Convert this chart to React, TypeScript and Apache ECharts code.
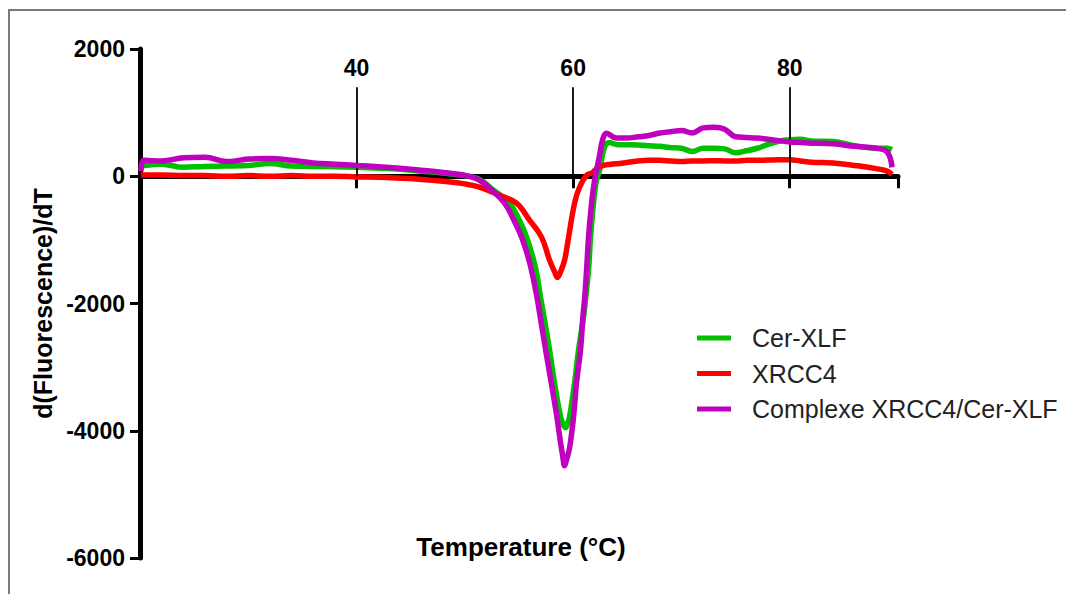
import React, { useEffect, useRef } from "react";
import * as echarts from "echarts";

// Cer-XLF (green)
const cerXLFTemp = [20.1, 20.4, 22, 24, 26, 28, 30, 32, 34, 36, 38, 40, 42, 44, 46, 48, 50, 51.36, 52.5, 54.13, 55.0, 55.7, 56.5, 56.99, 57.4, 57.82, 58.28, 58.84, 59.11, 59.3, 59.5, 59.67, 60.13, 60.5, 60.96, 61.14, 61.42, 61.61, 61.88, 62.16, 62.44, 62.9, 63.36, 64, 65, 66, 67, 68, 69, 70, 71, 72, 73, 74, 75, 76, 77, 78, 79, 80, 81, 82, 84, 86, 88, 89, 89.45];
const cerXLFValue = [150, 170, 190, 140, 155, 160, 170, 200, 160, 155, 150, 140, 125, 110, 80, 50, 10, -50, -200, -424, -680, -957, -1420, -1900, -2300, -2730, -3248, -3781, -3910, -3950, -3880, -3781, -3248, -2730, -2212, -1946, -1475, -957, -424, -63, 94, 460, 530, 500, 495, 490, 480, 470, 450, 440, 390, 440, 440, 430, 370, 400, 440, 500, 550, 575, 580, 555, 545, 480, 440, 440, 420];

// XRCC4 (red)
const xrcc4Temp = [20.1, 22, 24, 26, 28, 30, 32, 34, 36, 38, 40, 42, 44, 46, 48, 50, 51.36, 53.2, 54.77, 55.97, 57.08, 57.82, 58.28, 58.56, 58.84, 59.21, 59.58, 60.13, 60.59, 61.24, 61.79, 62.44, 63.5, 64.3, 66, 67, 68, 69, 70, 71, 72, 73, 74, 75, 76, 77, 78, 79, 80, 81, 82, 84, 86, 88, 89, 89.45];
const xrcc4Value = [20, 20, 10, 10, 0, 10, 0, 10, 0, 0, -10, -15, -30, -50, -80, -120, -170, -300, -424, -690, -957, -1318, -1500, -1590, -1500, -1318, -957, -424, -173, 15, 60, 150, 190, 200, 240, 250, 250, 240, 230, 240, 240, 245, 240, 240, 250, 250, 255, 260, 260, 240, 220, 210, 170, 120, 80, 30];

// Complexe XRCC4/Cer-XLF (purple)
const complexeTemp = [20.1, 20.4, 22, 24, 26, 28, 30, 32, 34, 36, 38, 40, 42, 44, 46, 48, 50, 51.36, 52.5, 53.67, 54.5, 55.24, 55.97, 56.62, 57.08, 57.54, 58.01, 58.47, 58.84, 59.02, 59.21, 59.39, 59.67, 60.04, 60.31, 60.68, 60.9, 61.05, 61.24, 61.42, 61.7, 61.98, 62.16, 62.44, 62.71, 63.08, 64, 65, 66, 67, 68, 69, 70, 71, 72, 73, 74, 75, 76, 77, 78, 79, 80, 81, 82, 84, 86, 88, 89, 89.45];
const complexeValue = [80, 250, 240, 290, 300, 230, 270, 280, 250, 210, 190, 170, 150, 125, 95, 60, 15, -63, -220, -424, -680, -957, -1350, -1867, -2338, -2809, -3280, -3750, -4190, -4378, -4550, -4456, -4270, -3781, -3248, -2730, -2212, -1946, -1475, -957, -424, -63, 94, 330, 565, 675, 600, 600, 620, 640, 680, 700, 720, 680, 760, 770, 740, 620, 610, 600, 580, 560, 540, 530, 520, 510, 470, 440, 380, 140];

const seriesNames = ["Cer-XLF", "XRCC4", "Complexe XRCC4/Cer-XLF"];
const seriesColors = ["#00c000", "#ff0000", "#bf00bf"];
const xTickLabels = [40, 60, 80];
const guideTop = 1400;

const FONT = "Arial, 'Liberation Sans', sans-serif";

export default function App() {
  const ref = useRef<HTMLDivElement>(null);
  useEffect(() => {
    document.body.style.margin = "0";
    const chart = echarts.init(ref.current!, null, { renderer: "svg" });
    const temps = [cerXLFTemp, xrcc4Temp, complexeTemp];
    const values = [cerXLFValue, xrcc4Value, complexeValue];
    const series: any[] = values.map((vals, i) => ({
      name: seriesNames[i],
      type: "line",
      data: temps[i].map((t, j) => [t, vals[j]]),
      showSymbol: false,
      smooth: 0.4,
      lineStyle: { color: seriesColors[i], width: 5.5 },
      itemStyle: { color: seriesColors[i] },
      z: 3 + i,
    }));
    series.push({
      type: "line",
      data: [],
      silent: true,
      markLine: {
        symbol: "none",
        silent: true,
        label: {
          show: true,
          position: "end",
          distance: 8,
          formatter: "{b}",
          color: "#000",
          fontFamily: FONT,
          fontWeight: "bold",
          fontSize: 23,
        },
        lineStyle: { color: "#000", width: 1.8, type: "solid" },
        data: xTickLabels.map((t) => [
          { coord: [t, 0], name: String(t) },
          { coord: [t, guideTop], name: String(t) },
        ]),
      },
    });
    chart.setOption({
      animation: false,
      backgroundColor: "#fff",
      grid: { left: 140, right: 168, top: 49, bottom: 36, containLabel: false },
      xAxis: {
        type: "value",
        min: 20,
        max: 90,
        interval: 20,
        axisLine: { onZero: true, lineStyle: { color: "#000", width: 5 } },
        axisTick: { show: true, length: 12, inside: false, lineStyle: { color: "#000", width: 3 } },
        axisLabel: { show: false },
        splitLine: { show: false },
      },
      yAxis: {
        type: "value",
        min: -6000,
        max: 2000,
        interval: 2000,
        name: "d(Fluorescence)/dT",
        nameLocation: "middle",
        nameGap: 76,
        nameRotate: 90,
        nameTextStyle: { color: "#000", fontFamily: FONT, fontWeight: "bold", fontSize: 25 },
        axisLine: { show: true, lineStyle: { color: "#000", width: 5 } },
        axisTick: { show: true, length: 10, lineStyle: { color: "#000", width: 3 } },
        axisLabel: {
          color: "#000",
          fontFamily: FONT,
          fontWeight: "bold",
          fontSize: 23,
          margin: 15,
          formatter: (v: number) => String(v),
        },
        splitLine: { show: false },
      },
      legend: {
        data: seriesNames,
        orient: "vertical",
        left: 692,
        top: 320,
        icon: "rect",
        itemWidth: 34,
        itemHeight: 5,
        itemGap: 9.5,
        textStyle: { color: "#222", fontFamily: FONT, fontSize: 25, lineHeight: 26, padding: [0, 0, 0, 16] },
      },
      graphic: [
        {
          type: "rect",
          shape: { x: 9, y: 10, width: 1200, height: 800 },
          style: { fill: "none", stroke: "#7a7a7a", lineWidth: 2 },
          silent: true,
        },
        {
          type: "text",
          x: 521,
          y: 547,
          style: {
            text: "Temperature (°C)",
            font: `bold 26px ${FONT}`,
            fill: "#000",
            textAlign: "center",
            textVerticalAlign: "middle",
          },
        },
      ],
      series,
    });
    return () => chart.dispose();
  }, []);
  return <div ref={ref} style={{ width: 1066, height: 594 }} />;
}
